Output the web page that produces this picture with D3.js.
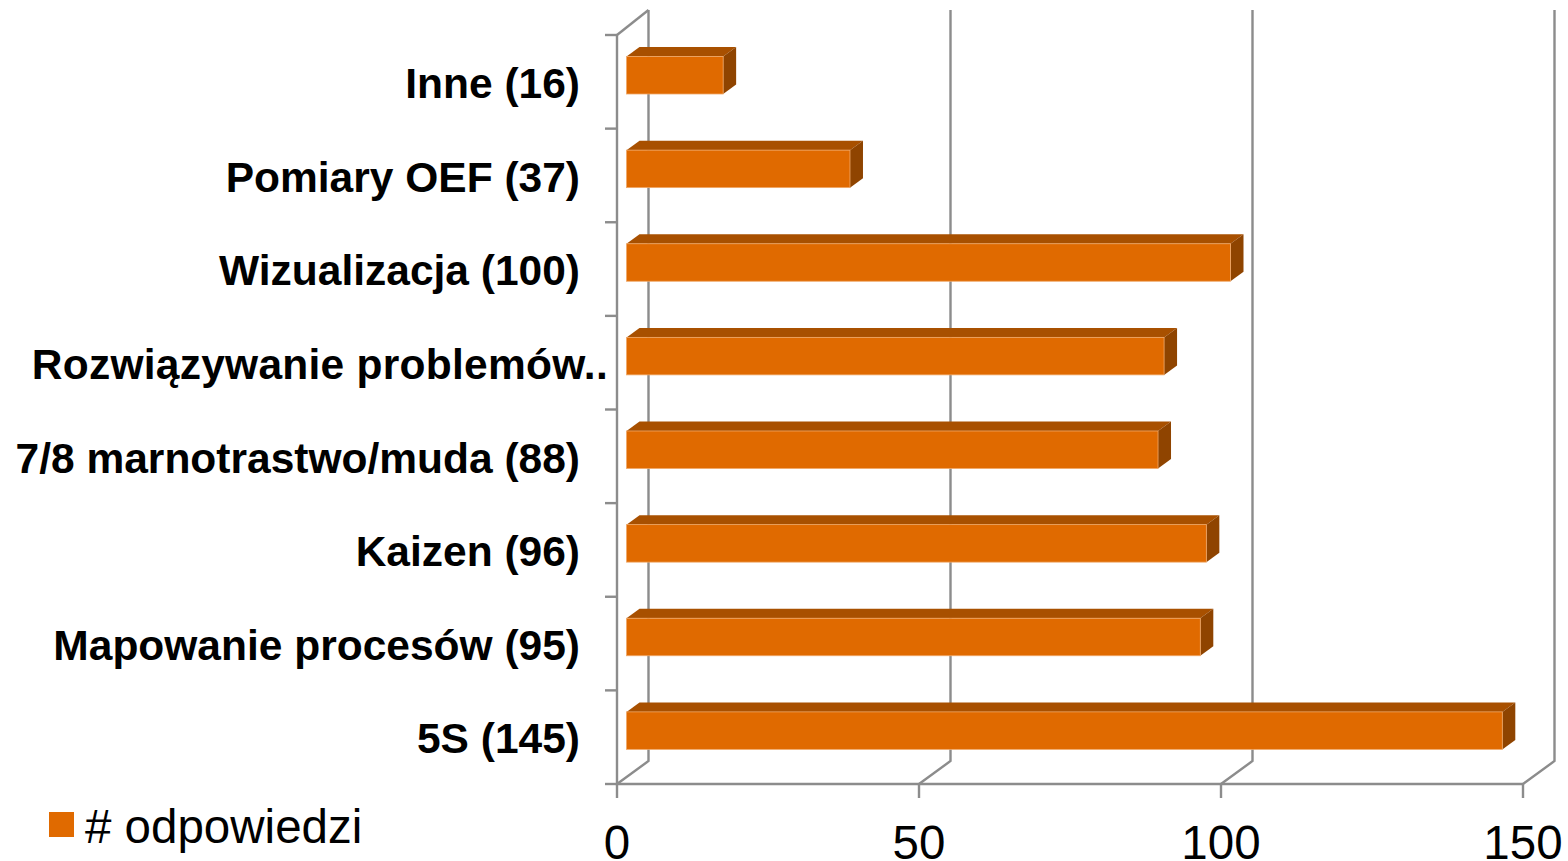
<!DOCTYPE html>
<html>
<head>
<meta charset="utf-8">
<script src="https://cdn.jsdelivr.net/npm/d3@7.9.0/dist/d3.min.js"></script>
<style>
  html, body { margin: 0; background: #fff; }
  svg { display: block; }
  text { font-family: "Liberation Sans", Arial, sans-serif; fill: #000; }
  .cat { font-size: 42.5px; font-weight: bold; }
  .tick-label { font-size: 47.5px; }
</style>
</head>
<body>
<svg id="chart" width="1568" height="861"></svg>
<script>
// top to bottom, same order as the picture
const categories = ['Inne (16)', 'Pomiary OEF (37)', 'Wizualizacja (100)', 'Rozwiązywanie problemów..', '7/8 marnotrastwo/muda (88)', 'Kaizen (96)', 'Mapowanie procesów (95)', '5S (145)'];
const values = [16, 37, 100, 89, 88, 96, 95, 145];
const xTicks = [0, 50, 100, 150];
const seriesName = '# odpowiedzi';

const svg = d3.select('#chart');

const x = d3.scaleLinear().domain([0, 150]).range([617, 1523]);
const y = d3.scaleBand().domain(categories).range([35, 784]);

// 3d offset of the back wall and of the bars
const wallDx = 31.5, wallDy = -23;
const barDx = 13, barDy = -9.5;
const barInset = 9.5;
const barTop = 21.5, barH = 37.5;

const gray = '#8c8c8c';
const grid = svg.append('g').attr('fill', 'none').attr('stroke', gray).attr('stroke-width', 2.4);

// back wall lines + floor diagonals
xTicks.forEach((t) => {
    const px = x(t);
    grid.append('path').attr('d', `M${px},${y.range()[1]}L${px + wallDx},${y.range()[1] + wallDy}V10`);
});
// left wall top diagonal
grid.append('path').attr('d', `M${x(0)},${y.range()[0]}L${x(0) + wallDx},10`);

// front axes
grid.append('path').attr('d', `M${x(0)},${y.range()[0]}V${y.range()[1]}H${x(150)}`);
grid.selectAll('.ytick')
    .data(categories.concat(null))
    .join('path')
    .attr('d', (d) => {
        const py = d === null ? y.range()[1] : y(d);
        return `M${x(0) - 12},${py}H${x(0)}`;
    });
grid.selectAll('.xtick')
    .data(xTicks)
    .join('path')
    .attr('d', (d) => `M${x(d)},${y.range()[1]}V${y.range()[1] + 14}`);

// bars: front, top, side faces
const bars = svg.append('g').selectAll('g')
    .data(categories.map((c, i) => ({ label: c, value: values[i] })))
    .join('g');

bars.append('path')
    .attr('fill', '#a85000')
    .attr('d', (d) => {
        const x0 = x(0) + barInset, x1 = x0 + x(d.value) - x(0), t = y(d.label) + barTop;
        return `M${x0},${t}L${x0 + barDx},${t + barDy}H${x1 + barDx}L${x1},${t}Z`;
    });
bars.append('path')
    .attr('fill', '#8f4400')
    .attr('d', (d) => {
        const x1 = x(0) + barInset + x(d.value) - x(0), t = y(d.label) + barTop;
        return `M${x1},${t}L${x1 + barDx},${t + barDy}V${t + barDy + barH}L${x1},${t + barH}Z`;
    });
bars.append('rect')
    .attr('fill', '#e06a00')
    .attr('stroke', '#f0a868')
    .attr('stroke-width', 0.8)
    .attr('x', x(0) + barInset)
    .attr('y', (d) => y(d.label) + barTop)
    .attr('width', (d) => x(d.value) - x(0))
    .attr('height', barH);

// category labels
svg.append('g').selectAll('text')
    .data(categories)
    .join('text')
    .attr('class', 'cat')
    .attr('text-anchor', 'end')
    .attr('x', (d) => d.endsWith('..') ? 608 : 580)
    .attr('y', (d) => y(d) + 63)
    .style('letter-spacing', (d) => d.endsWith('..') ? '0.25px' : null)
    .text((d) => d);

// value axis labels
svg.append('g').selectAll('text')
    .data(xTicks)
    .join('text')
    .attr('class', 'tick-label')
    .attr('text-anchor', 'middle')
    .attr('x', (d) => x(d))
    .attr('y', 858.5)
    .text((d) => d);

// legend
svg.append('rect').attr('x', 49).attr('y', 812).attr('width', 25).attr('height', 25).attr('fill', '#e06a00');
svg.append('text').attr('x', 85).attr('y', 843).style('font-size', '47.5px').text(seriesName);
</script>
</body>
</html>
